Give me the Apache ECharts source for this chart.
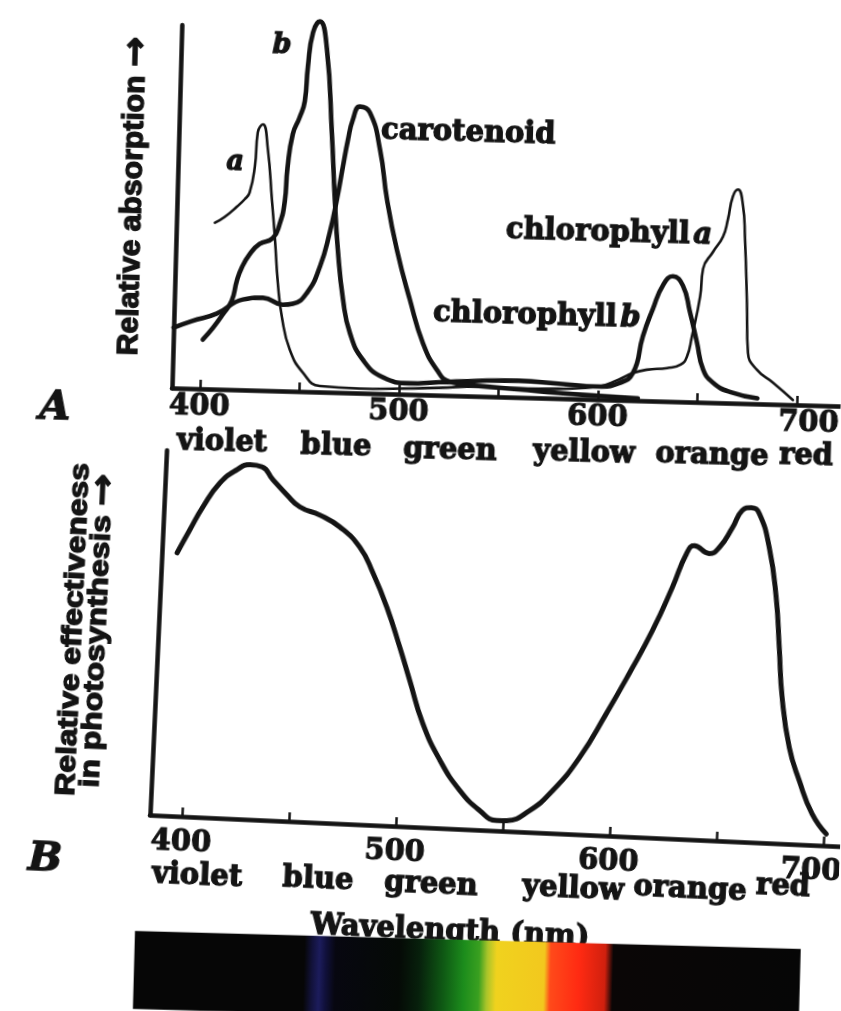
<!DOCTYPE html>
<html>
<head>
<meta charset="utf-8">
<title>Absorption and action spectra</title>
<script src="https://cdn.jsdelivr.net/npm/echarts@6/dist/echarts.min.js"></script>
<style>
  html, body { margin: 0; padding: 0; background: #fff; }
  #page { position: relative; width: 841px; height: 1011px; overflow: hidden; background: #fff; }
  .panel { position: absolute; left: 0; top: 0; width: 841px; height: 1011px; }
  /* each panel is set slightly askew, as on the printed page */
  #action { transform-origin: 150px 815px; transform: rotate(2.6deg); }
  #absorb { transform-origin: 172px 388px; transform: rotate(1.55deg); }
</style>
</head>
<body>
<div id="page">
  <div id="action" class="panel"></div>
  <div id="absorb" class="panel"></div>
</div>
<script>
// ---- data ---------------------------------------------------------------
const tickWavelengths = [400, 450, 500, 550, 600, 650, 700];
const labelWavelengths = [400, 500, 600, 700];
const bandNames = ['violet', 'blue', 'green', 'yellow', 'orange', 'red'];

// absorption spectra: [wavelength nm, relative absorption]
const chlorophyllA = [
  [405.3, 44.9], [410, 46.5], [416.1, 49.4], [420, 51.5], [422.3, 53.3], [424.6, 60.4],
  [425.6, 69.6], [428.1, 71.8], [430.9, 65.1], [433.6, 51.6], [435.7, 40.8], [437.7, 29.2],
  [440.2, 20], [444.6, 11.2], [451.5, 5.1], [460.2, 1.6], [480, 1.2], [500, 1.5], [520, 2.0],
  [540, 2.6], [560, 2.4], [580, 2.6], [600, 3.5], [610, 5.5], [617.2, 7.4], [624.2, 8.4],
  [634.3, 9], [641, 10], [644.1, 12.2], [646.3, 17.6], [649.9, 28.5], [651, 36], [655.8, 40.7],
  [660.6, 44.9], [662.8, 49.5], [665, 55.8], [667.5, 57.7], [670.2, 53.4], [671.6, 45],
  [673.5, 27.2], [674.7, 13.7], [679.4, 9.2], [687.7, 5.8], [697.9, 1.3]
];
const chlorophyllB = [
  [400.8, 13.3], [405.7, 16.5], [410.6, 20.3], [414.8, 24], [417.1, 29.4], [419.4, 33],
  [423.2, 36.7], [428, 39.5], [434.6, 41.2], [437.8, 45], [440.1, 51.2], [441, 60.2],
  [443.2, 69.4], [446.3, 73.8], [448.8, 78.4], [449.9, 87.8], [452, 97], [455.3, 100],
  [459.2, 92.5], [462.8, 70], [465.2, 52], [467.4, 38.5], [470.7, 25], [474.6, 16.1],
  [481.6, 8.9], [491.8, 4.4], [504.9, 3], [520, 3.5], [540, 4.2], [560, 4.5], [580, 4],
  [600, 3.5], [610, 4.5], [617.2, 7.4], [621.7, 17.4], [626.4, 24.9], [631.1, 31.3],
  [636, 33.8], [641.1, 31.4], [645, 24.3], [648.9, 16.2], [652.4, 8.9], [657.5, 5.4],
  [666.2, 3], [680, 1.5]
];
const carotenoid = [
  [386, 16.3], [395, 18.2], [407.5, 20.4], [420.4, 24.4], [430.5, 25], [440.5, 23.3],
  [445.5, 23.6], [452.5, 26.7], [458.6, 33.8], [463.1, 43.1], [466.2, 52], [468.8, 61],
  [471, 68.3], [473.2, 73.8], [476.5, 77.3], [481.6, 75.8], [487.2, 65.9], [491.4, 52.4],
  [497, 39], [504.2, 25.6], [511.4, 13.9], [518.8, 6.8], [525.4, 3.7], [540, 2.8],
  [560, 2.2], [580, 1.5], [600, 1.0], [620, 0.6]
];

// action spectrum: [wavelength nm, relative effectiveness in photosynthesis]
const photosynthesis = [
  [392.1, 72.1], [397.6, 78.6], [403.2, 85], [410.7, 91.8], [418.3, 95.6], [424.3, 97.1],
  [429.9, 96.7], [435.3, 93.3], [442.2, 89.3], [448.4, 86.2], [458, 84.2], [467.5, 81.2],
  [477.3, 75.9], [484, 69], [491.2, 59.8], [498.1, 49], [503.4, 40.1], [510.4, 28.5],
  [519.2, 18.6], [529.1, 10.6], [538.9, 5.3], [547, 2.8], [551.7, 2.9], [562.1, 5.9],
  [572.5, 11.7], [584.4, 21.1], [596, 33.5], [605.8, 44.7], [615.7, 56.7], [624.1, 68.8],
  [630, 78.2], [633.5, 80.5], [640.6, 78.5], [645.2, 80.3], [650.9, 85.9], [655.1, 90.7],
  [659.3, 91.6], [663.1, 90.1], [668.5, 80.9], [672.8, 67.3], [675.3, 53.6], [677.7, 40],
  [682.1, 26.4], [687.5, 17.4], [694.2, 8.5], [701.2, 3.2]
];

// ---- styling and layout -------------------------------------------------
const INK = '#141414';
const SERIF = '"DejaVu Serif", "Liberation Serif", serif';
const SANS = '"Liberation Sans", Arial, sans-serif';
const HEAVY = { stroke: INK, lineWidth: 1.3 };   // extra weight on the printed lettering

// page position -> position inside a panel rotated by `deg` about (ox, oy)
function frame(ox, oy, deg) {
  const t = deg * Math.PI / 180, c = Math.cos(t), s = Math.sin(t);
  return (x, y) => [ox + (x - ox) * c + (y - oy) * s, oy - (x - ox) * s + (y - oy) * c];
}
const absorbFrame = frame(172, 388, 1.55);
const actionFrame = frame(150, 815, 2.6);

function text(f, x, y, str, style, extra) {
  const p = f(x, y);
  return Object.assign({
    type: 'text', x: p[0], y: p[1], silent: true, z: 10,
    style: Object.assign({ text: str, fill: INK, align: 'center', verticalAlign: 'middle' }, HEAVY, style)
  }, extra || {});
}

function curve(data, width) {
  return {
    type: 'line', data: data, showSymbol: false, symbol: 'none', clip: false, silent: true,
    smooth: 0.5,
    lineStyle: { color: INK, width: width, cap: 'round', join: 'round' }
  };
}

const tickFont = { fontFamily: SERIF, fontWeight: 'bold', fontSize: 29, color: INK,
                   textBorderColor: INK, textBorderWidth: 1.1 };

function wavelengthAxis(min, max, labelMargin, labelFormatter) {
  return {
    type: 'value', min: min, max: max, splitLine: { show: false },
    axisLine: { show: true, onZero: false, lineStyle: { color: INK, width: 4.5 } },
    axisTick: { show: true, inside: true, length: 9, customValues: tickWavelengths,
                lineStyle: { color: INK, width: 2.5 } },
    axisLabel: Object.assign({ customValues: labelWavelengths, margin: labelMargin, formatter: labelFormatter,
                 rich: { end: Object.assign({ padding: [0, 0, 0, 24] }, tickFont),
                         endL: Object.assign({ padding: [0, 22, 0, 0] }, tickFont) } }, tickFont)
  };
}

function valueAxis(max) {
  return {
    type: 'value', min: 0, max: max, splitLine: { show: false },
    axisLine: { show: true, onZero: false, lineStyle: { color: INK, width: 4.5 } },
    axisTick: { show: false }, axisLabel: { show: false }
  };
}

const bandFont = { fontFamily: SERIF, fontWeight: 'bold', fontSize: 29 };
const curveFont = { fontFamily: SERIF, fontWeight: 'bold', fontSize: 29 };
const letterFont = { fontFamily: SERIF, fontWeight: 'bold', fontStyle: 'italic', fontSize: 27 };
const panelFont = { fontFamily: SERIF, fontWeight: 'bold', fontStyle: 'italic', fontSize: 40 };

// axis titles: bold sans words followed by a heavy arrow
function titleRich(size) {
  return {
    t: Object.assign({ fontFamily: SANS, fontWeight: 'bold', fontSize: size, lineHeight: size - 3 }, HEAVY),
    arr: Object.assign({ fontFamily: '"DejaVu Sans", sans-serif', fontWeight: 'bold', fontSize: size + 6,
                         lineHeight: size - 3 }, HEAVY)
  };
}

// colour-word positions on the page, one row under each panel
const absorbBandPos = [[222, 443], [336, 447], [450, 451], [584, 454], [712, 456], [806, 457]];
const actionBandPos = [[197, 877], [318, 880], [431, 885], [573, 890], [690, 890], [783, 887]];

// visible-light strip under the lower panel
const stripCorner = absorbFrame(135, 931);
const spectrumStrip = {
  type: 'rect', x: stripCorner[0], y: stripCorner[1], silent: true, z: 1,
  shape: { x: 0, y: 0, width: 666, height: 78 },
  style: {
    fill: {
      type: 'linear', x: 0, y: 0, x2: 1, y2: 0,
      colorStops: [
        { offset: 0, color: '#060606' }, { offset: 0.255, color: '#060606' },
        { offset: 0.267, color: '#12123a' }, { offset: 0.278, color: '#1c1c5c' },
        { offset: 0.288, color: '#10103a' }, { offset: 0.302, color: '#070710' },
        { offset: 0.398, color: '#050a06' }, { offset: 0.428, color: '#07200c' },
        { offset: 0.465, color: '#0f5a14' }, { offset: 0.495, color: '#1c8c1c' },
        { offset: 0.518, color: '#3aa020' }, { offset: 0.53, color: '#a8c42a' },
        { offset: 0.544, color: '#f0d21e' }, { offset: 0.616, color: '#f2c81e' },
        { offset: 0.625, color: '#ff4a1a' }, { offset: 0.668, color: '#ff2a12' },
        { offset: 0.707, color: '#d0200e' }, { offset: 0.719, color: '#0a0606' },
        { offset: 1, color: '#060606' }
      ]
    }
  }
};

const italicRich = (font) => ({ n: Object.assign({}, font, HEAVY),
                                 i: Object.assign({}, font, HEAVY, { fontStyle: 'italic' }) });

// ---- panel A: absorption spectra of the pigments ------------------------
const absorbChart = echarts.init(document.getElementById('absorb'));
absorbChart.setOption({
  animation: false,
  grid: { left: 172, right: 0, top: 25, bottom: 623, containLabel: false, outerBoundsMode: 'none' },
  xAxis: wavelengthAxis(386, 722, 4, v => v === 700 ? '{end|700}' : String(v)),
  yAxis: valueAxis(98),
  series: [curve(chlorophyllA, 2.6), curve(chlorophyllB, 4.6), curve(carotenoid, 4.6)],
  graphic: [
    spectrumStrip,
    text(absorbFrame, 282, 46, 'b', letterFont),
    text(absorbFrame, 235, 163, 'a', letterFont),
    text(absorbFrame, 381, 131, 'carotenoid', Object.assign({ align: 'left' }, curveFont)),
    text(absorbFrame, 506, 230, '{n|chlorophyll} {i|a}', { align: 'left', rich: italicRich(curveFont) }),
    text(absorbFrame, 433, 314, '{n|chlorophyll} {i|b}', { align: 'left', rich: italicRich(curveFont) }),
    text(absorbFrame, 55, 408, 'A', panelFont),
    text(absorbFrame, 133, 196, '{t|Relative absorption }{arr|\u2192}', { rich: titleRich(29) },
         { rotation: Math.PI / 2, scaleX: 1.04 })
  ].concat(bandNames.map((name, i) =>
    text(absorbFrame, absorbBandPos[i][0], absorbBandPos[i][1], name, bandFont)))
});

// ---- panel B: action spectrum of photosynthesis -------------------------
const actionChart = echarts.init(document.getElementById('action'));
actionChart.setOption({
  animation: false,
  grid: { left: 150, right: 0, top: 450, bottom: 196, containLabel: false, outerBoundsMode: 'none' },
  xAxis: wavelengthAxis(385, 708, 12, v => v === 700 ? '{endL|700}' : String(v)),
  yAxis: valueAxis(100),
  series: [curve(photosynthesis, 5)],
  graphic: [
    text(actionFrame, 45, 860, 'B', panelFont),
    text(actionFrame, 86, 630, '{t|Relative effectiveness}\n{t|in photosynthesis }{arr|\u2192}',
         { rich: titleRich(27) },
         { rotation: Math.PI / 2, scaleX: 1.18 }),
    text(actionFrame, 450, 932, 'Wavelength (nm)', { fontFamily: SERIF, fontWeight: 'bold', fontSize: 29 })
  ].concat(bandNames.map((name, i) =>
    text(actionFrame, actionBandPos[i][0], actionBandPos[i][1], name, bandFont)))
});
</script>
</body>
</html>
